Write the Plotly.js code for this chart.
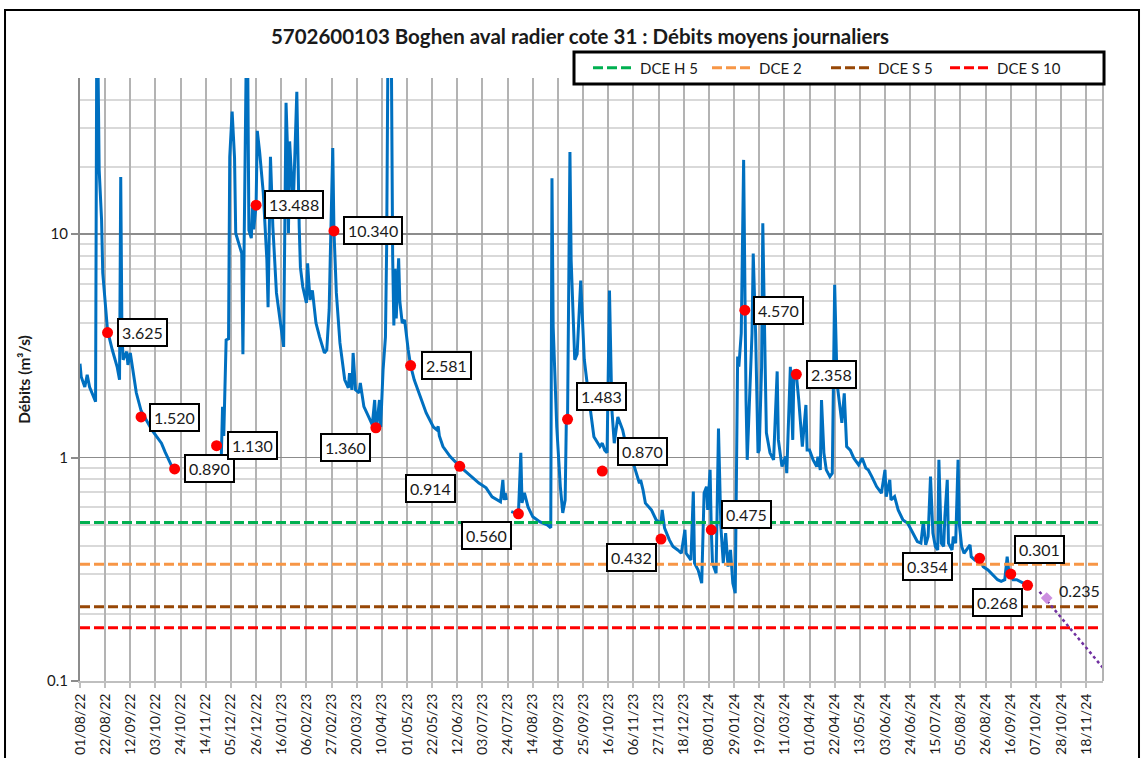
<!DOCTYPE html>
<html>
<head>
<meta charset="utf-8">
<script src="https://cdn.plot.ly/plotly-3.0.1.min.js"></script>
<style>
  html, body { margin: 0; padding: 0; background: #ffffff; }
  #chart { width: 1143px; height: 758px; }
</style>
</head>
<body>
<div id="chart"></div>
<script>
// Daily mean discharge (m3/s); null marks missing records
const flowDates = [
  '2022-08-01','2022-08-02','2022-08-05','2022-08-07','2022-08-09','2022-08-13','2022-08-14','2022-08-15','2022-08-16','2022-08-17',
  '2022-08-19','2022-08-20','2022-08-23','2022-08-24','2022-08-28','2022-09-01','2022-09-03','2022-09-04','2022-09-05','2022-09-06',
  '2022-09-09','2022-09-10','2022-09-12','2022-09-14','2022-09-17','2022-09-21','2022-09-25','2022-09-30','2022-10-04','2022-10-08',
  '2022-10-11','2022-10-14','2022-10-17','2022-10-19','2022-11-10',
  '2022-11-27','2022-11-28','2022-11-29','2022-12-01','2022-12-03','2022-12-04','2022-12-06','2022-12-08','2022-12-09','2022-12-12',
  '2022-12-14','2022-12-15','2022-12-16','2022-12-18','2022-12-19','2022-12-20','2022-12-22','2022-12-23','2022-12-24','2022-12-26',
  '2022-12-27','2022-12-29','2023-01-01','2023-01-04','2023-01-05','2023-01-07','2023-01-09','2023-01-12','2023-01-15','2023-01-18',
  '2023-01-20','2023-01-21','2023-01-22','2023-01-23','2023-01-26','2023-01-29','2023-01-31','2023-02-01','2023-02-03','2023-02-06',
  '2023-02-07','2023-02-09','2023-02-11','2023-02-14','2023-02-17','2023-02-21','2023-02-23','2023-02-25','2023-02-26','2023-02-28',
  '2023-03-01','2023-03-03','2023-03-06','2023-03-10','2023-03-13','2023-03-14','2023-03-16','2023-03-17','2023-03-19','2023-03-22',
  '2023-03-23','2023-03-26','2023-03-30','2023-04-02','2023-04-04','2023-04-05','2023-04-06','2023-04-08','2023-04-09','2023-04-11',
  '2023-04-13','2023-04-14','2023-04-15','2023-04-16','2023-04-17','2023-04-18','2023-04-19','2023-04-20','2023-04-21','2023-04-22',
  '2023-04-24','2023-04-25','2023-04-27','2023-04-29','2023-05-02','2023-05-04','2023-05-07','2023-05-12','2023-05-17','2023-05-23',
  '2023-05-26','2023-05-27','2023-05-28','2023-05-31','2023-06-06','2023-06-14','2023-06-22','2023-06-30','2023-07-06','2023-07-11',
  '2023-07-18','2023-07-20','2023-07-21','2023-07-22','2023-07-23','2023-07-25',
  '2023-07-27','2023-08-02','2023-08-04','2023-08-05','2023-08-07','2023-08-10','2023-08-14','2023-08-20','2023-08-26','2023-08-29',
  '2023-08-30','2023-08-31','2023-09-03','2023-09-06','2023-09-08','2023-09-10','2023-09-11','2023-09-12','2023-09-14','2023-09-15',
  '2023-09-18','2023-09-20','2023-09-23','2023-09-26','2023-09-30','2023-10-04','2023-10-09','2023-10-11','2023-10-13','2023-10-15',
  '2023-10-17','2023-10-19','2023-10-21','2023-10-24','2023-10-28','2023-10-31','2023-11-05','2023-11-11','2023-11-12','2023-11-14',
  '2023-11-16','2023-11-21','2023-11-25','2023-11-29','2023-11-30','2023-12-02','2023-12-06','2023-12-09','2023-12-13','2023-12-16',
  '2023-12-19','2023-12-20','2023-12-22','2023-12-24','2023-12-26','2023-12-27','2023-12-30','2024-01-02','2024-01-04','2024-01-06',
  '2024-01-07','2024-01-09','2024-01-10','2024-01-11','2024-01-14','2024-01-16','2024-01-18','2024-01-20','2024-01-22','2024-01-24',
  '2024-01-26','2024-01-28','2024-01-30','2024-01-31','2024-02-01','2024-02-02','2024-02-04','2024-02-06','2024-02-07','2024-02-08',
  '2024-02-09','2024-02-11','2024-02-13','2024-02-14','2024-02-16','2024-02-18','2024-02-19','2024-02-21','2024-02-22','2024-02-24',
  '2024-02-25','2024-02-28','2024-03-02','2024-03-05','2024-03-06','2024-03-09','2024-03-12','2024-03-13','2024-03-16','2024-03-18',
  '2024-03-19','2024-03-21','2024-03-23','2024-03-26','2024-03-29','2024-03-30','2024-04-01','2024-04-04','2024-04-07','2024-04-08',
  '2024-04-10','2024-04-11','2024-04-13','2024-04-15','2024-04-18','2024-04-20','2024-04-22','2024-04-24','2024-04-27','2024-04-28',
  '2024-04-30','2024-05-02','2024-05-05','2024-05-08','2024-05-12','2024-05-15','2024-05-18','2024-05-20','2024-05-23','2024-05-27',
  '2024-05-31','2024-06-03','2024-06-04','2024-06-07','2024-06-08','2024-06-11','2024-06-14','2024-06-18','2024-06-22','2024-06-26',
  '2024-06-30','2024-07-03','2024-07-05','2024-07-07','2024-07-09','2024-07-11','2024-07-13','2024-07-15','2024-07-17','2024-07-18',
  '2024-07-20','2024-07-22','2024-07-23','2024-07-25','2024-07-26','2024-07-29','2024-07-30','2024-08-01','2024-08-03','2024-08-04',
  '2024-08-06','2024-08-08','2024-08-10','2024-08-13','2024-08-14','2024-08-17','2024-08-21','2024-08-24','2024-08-28','2024-09-01',
  '2024-09-05','2024-09-08','2024-09-11','2024-09-13','2024-09-15','2024-09-16','2024-09-18','2024-09-21','2024-09-24','2024-09-27',
  '2024-09-30'
];
const flowValues = [
  2.63, 2.30, 2.07, 2.35, 2.07, 1.81, 1.78, 80, 60, 19.4,
  11.6, 6.7, 4.44, 3.7, 3.03, 2.55, 2.23, 18.0, 3.6, 2.74,
  2.98, 2.60, 2.94, 2.47, 1.95, 1.62, 1.475, 1.33, 1.24, 1.16,
  1.06, 0.98, 0.905, 0.89, null,
  1.03, 1.69, 1.25, 3.36, 3.4, 22.2, 35.4, 22, 10.1, 8.8,
  8.2, 2.9, 12.4, 80, 60, 10.4, 9.6, 13.2, 10.5, 13.488,
  29, 23.2, 15.3, 7.66, 4.71, 22.2, 10.8, 5.46, 4.13, 3.13,
  38.7, 26.4, 10.1, 26, 13.2, 43.4, 10.8, 7.1, 5.8, 4.92,
  7.4, 5.08, 5.6, 4.0, 3.47, 2.94, 3.03, 4.58, 8.2, 24.3,
  10.34, 5.46, 3.26, 2.23, 2.05, 2.39, 2.01, 2.94, 2.01, 1.95,
  2.16, 1.69, 1.52, 1.40, 1.81, 1.36, 1.43, 1.81, 1.37, 2.47,
  3.47, 8.8, 60, 90, 80, 55, 8, 3.9, 7.0, 4.2,
  7.8, 5.0, 4.0, 4.13, 3.03, 2.581, 2.23, 1.87, 1.585, 1.37,
  1.33, 1.38, 1.25, 1.12, 1.01, 0.914, 0.835, 0.769, 0.732, 0.667,
  0.634, 0.795, 0.646, 0.695, 0.646, null,
  0.573, 0.56, 1.05, 0.627, 0.695, 0.601, 0.543, 0.515, 0.50, 0.485,
  17.8, 3.85, 1.37, 0.74, 0.565, 0.645, 1.47, 1.483, 23.3, 7.66,
  2.74, 2.9, 6.2, 2.74, 1.81, 1.24, 1.12, 1.16, 1.08, 1.05,
  5.6, 1.64, 1.16, 1.52, 1.33, 1.12, 0.977, 0.768, 0.795, 0.717,
  0.625, 0.583, 0.526, 0.508, 0.583, 0.483, 0.428, 0.40, 0.386, 0.373,
  0.475, 0.373, 0.36, 0.348, 0.705, 0.337, 0.314, 0.274, 0.693, 0.741,
  0.583, 0.881, 0.475, 0.337, 0.304, 1.35, 0.491, 0.337, 0.459, 0.325,
  0.386, 0.274, 0.247, 0.977, 2.83, 2.55, 3.6, 21.5, 4.57, 1.81,
  0.977, 1.94, 3.6, 8.2, 3.6, 1.05, 1.08, 2.55, 11.2, 2.55,
  1.29, 1.05, 0.977, 2.43, 1.2, 0.912, 1.01, 0.851, 2.55, 1.2,
  2.47, 2.358, 1.81, 1.12, 1.72, 1.08, 1.08, 0.977, 0.912, 1.01,
  0.881, 1.81, 1.05, 0.881, 0.822, 0.851, 5.93, 2.15, 1.53, 1.43,
  1.94, 1.12, 1.08, 0.994, 0.928, 0.994, 0.897, 0.881, 0.822, 0.742,
  0.693, 0.881, 0.669, 0.795, 0.647, 0.669, 0.583, 0.526, 0.508, 0.459,
  0.421, 0.414, 0.517, 0.407, 0.443, 0.822, 0.459, 0.40, 0.386, 0.977,
  0.414, 0.40, 0.545, 0.795, 0.414, 0.386, 0.443, 0.414, 0.977, 0.508,
  0.40, 0.373, 0.386, 0.407, 0.36, 0.348, 0.354, 0.325, 0.314, 0.298,
  0.284, 0.279, 0.284, 0.36, 0.289, 0.301, 0.284, 0.284, 0.279, 0.274,
  0.268
];

// Highlighted daily values
const markDates = [
  '2022-08-24','2022-09-21','2022-10-19','2022-11-23','2022-12-26','2023-03-01','2023-04-05',
  '2023-05-04','2023-06-14','2023-08-02','2023-09-12','2023-10-11','2023-11-29','2024-01-10',
  '2024-02-07','2024-03-21','2024-08-21','2024-09-16','2024-09-30'
];
const markValues = [
  3.625, 1.520, 0.890, 1.130, 13.488, 10.340, 1.360,
  2.581, 0.914, 0.560, 1.483, 0.870, 0.432, 0.475,
  4.570, 2.358, 0.354, 0.301, 0.268
];

// Projected recession
const forecastDates = ['2024-10-10', '2024-12-02'];
const forecastValues = [0.251, 0.1145];
const forecastPointDates = ['2024-10-16'];
const forecastPointValues = [0.235];

// Reference flow thresholds
const thresholdNames = ['DCE H 5', 'DCE 2', 'DCE S 5', 'DCE S 10'];
const thresholdValues = [0.512, 0.333, 0.215, 0.173];
const thresholdColors = ['#00B050', '#F79646', '#974706', '#FF0000'];

// Axis settings
const axisStart = '2022-08-01';
const axisEnd = '2024-12-02';
const yTickVals = [0.1, 1, 10];
const yTickText = ['0.1', '1', '10'];
const yMinorVals = [0.2, 0.3, 0.4, 0.5, 0.6, 0.7, 0.8, 0.9, 2, 3, 4, 5, 6, 7, 8, 9, 20, 30, 40, 50];

// Label placement for each highlighted value: side, horizontal and vertical offsets (px)
const labelPlacement = [
  ['left', 9, 0], ['left', 8, -1], ['left', 9, 0], ['left', 10, 0], ['left', 8, 1], ['left', 9, 0], ['right', -5, -20],
  ['left', 10, 0], ['right', -4, -22], ['right', -6, -22], ['left', 8, 23], ['left', 15, 20], ['right', -4, -18], ['left', 10, 15],
  ['left', 8, 0], ['left', 10, 0], ['right', -27, -8], ['left', 3, 25], ['right', -5, -17]
];

const FONT = 'Lato, "Open Sans", Arial, sans-serif';
const TEXT = '#1a1a1a';

const traces = [];

traces.push({
  x: flowDates, y: flowValues, type: 'scatter', mode: 'lines',
  line: { color: '#0070C0', width: 3 }, connectgaps: false,
  showlegend: false, hoverinfo: 'skip'
});

thresholdNames.forEach((name, i) => {
  traces.push({
    x: [axisStart, axisEnd], y: [thresholdValues[i], thresholdValues[i]],
    type: 'scatter', mode: 'lines', name: name,
    line: { color: thresholdColors[i], width: 3, dash: '10px,4px' }
  });
});

traces.push({
  x: forecastDates, y: forecastValues, type: 'scatter', mode: 'lines',
  line: { color: '#7030A0', width: 2.5, dash: 'dot' }, showlegend: false, hoverinfo: 'skip'
});
traces.push({
  x: forecastPointDates, y: forecastPointValues, type: 'scatter', mode: 'markers',
  marker: { symbol: 'diamond', size: 9, color: '#CC8FE0' }, showlegend: false, hoverinfo: 'skip'
});

traces.push({
  x: markDates, y: markValues, type: 'scatter', mode: 'markers',
  marker: { color: '#FF0000', size: 11 }, showlegend: false, hoverinfo: 'skip'
});

const annotations = markDates.map((d, i) => ({
  x: d, y: Math.log10(markValues[i]), xref: 'x', yref: 'y',
  text: markValues[i].toFixed(3), showarrow: false,
  xanchor: labelPlacement[i][0], yanchor: 'middle',
  xshift: labelPlacement[i][1], yshift: labelPlacement[i][2],
  bgcolor: '#ffffff', bordercolor: '#000000', borderwidth: 2, borderpad: 3,
  font: { family: FONT, size: 16, color: TEXT }
}));
annotations.push({
  x: forecastPointDates[0], y: Math.log10(forecastPointValues[0]), xref: 'x', yref: 'y',
  text: forecastPointValues[0].toFixed(3), showarrow: false,
  xanchor: 'left', yanchor: 'middle', xshift: 10, yshift: 8,
  font: { family: FONT, size: 16, color: TEXT }
});

const layout = {
  width: 1143, height: 758,
  margin: { l: 80, r: 40, t: 78, b: 77 },
  paper_bgcolor: '#ffffff', plot_bgcolor: '#ffffff',
  font: { family: FONT, color: TEXT },
  title: {
    text: '5702600103 Boghen aval radier cote 31 : Débits moyens journaliers',
    font: { family: FONT, size: 20.5, color: TEXT, weight: 'bold' },
    x: 0.5074, xanchor: 'center', xref: 'container',
    y: 0.951, yanchor: 'middle', yref: 'container'
  },
  xaxis: {
    type: 'date', range: [axisStart, axisEnd], autorange: false,
    tickmode: 'linear', tick0: axisStart, dtick: 21 * 86400000,
    tickformat: '%d/%m/%y', tickangle: -90,
    tickfont: { family: FONT, size: 14, color: TEXT },
    showgrid: true, gridcolor: '#b3b3b3', gridwidth: 2,
    showline: true, linecolor: '#bfbfbf', linewidth: 2,
    ticks: 'outside', ticklen: 5, tickcolor: '#bfbfbf', tickwidth: 2,
    zeroline: false, fixedrange: true
  },
  yaxis: {
    type: 'log', range: [-1, Math.log10(50)], autorange: false,
    tickmode: 'array', tickvals: yTickVals, ticktext: yTickText,
    tickfont: { family: FONT, size: 15, color: TEXT },
    showgrid: true, gridcolor: '#8c8c8c', gridwidth: 1.5,
    showline: true, linecolor: '#8c8c8c', linewidth: 2,
    ticks: 'outside', ticklen: 7, tickcolor: '#8c8c8c', tickwidth: 2,
    minor: { tickmode: 'array', tickvals: yMinorVals, showgrid: true, gridcolor: '#d9d9d9', gridwidth: 2, ticks: '' },
    title: { text: 'Débits (m³/s)', font: { family: FONT, size: 15.5, color: TEXT, weight: 'bold' }, standoff: 13 },
    zeroline: false, fixedrange: true
  },
  legend: {
    orientation: 'h', x: 0.4966, xanchor: 'left', y: 1.0166, yanchor: 'middle',
    bgcolor: 'rgba(0,0,0,0)', borderwidth: 0,
    font: { family: FONT, size: 15, color: TEXT },
    entrywidth: 62, itemwidth: 42
  },
  shapes: [
    { type: 'line', xref: 'paper', yref: 'paper', x0: 1, x1: 1, y0: 0, y1: 1, line: { color: '#b3b3b3', width: 2 } },
    { type: 'rect', xref: 'paper', yref: 'paper', x0: -0.0733, x1: 1.0352, y0: -0.25, y1: 1.1128, line: { color: '#000000', width: 2 }, fillcolor: 'rgba(0,0,0,0)' },
    { type: 'rect', xref: 'paper', yref: 'paper', layer: 'above', x0: 0.4829, x1: 1.001, y0: 0.990, y1: 1.0431, line: { color: '#000000', width: 3 }, fillcolor: '#ffffff' }
  ],
  annotations: annotations,
  showlegend: true
};

Plotly.newPlot('chart', traces, layout, { displayModeBar: false, staticPlot: true });
</script>
</body>
</html>
